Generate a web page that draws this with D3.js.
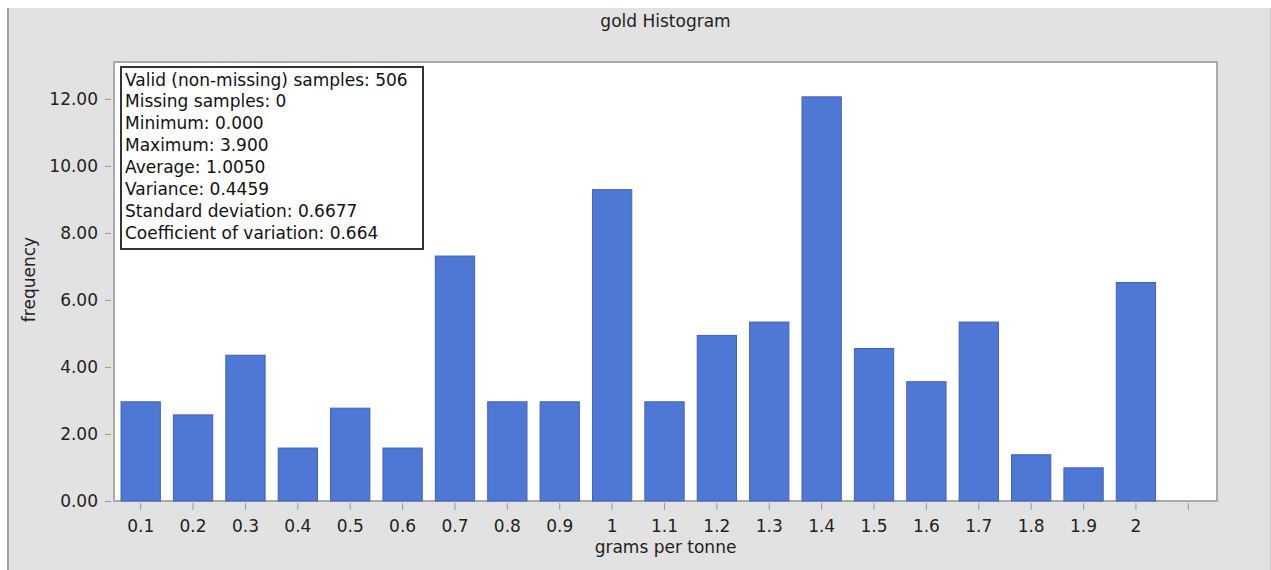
<!DOCTYPE html>
<html><head><meta charset="utf-8">
<script src="https://cdn.jsdelivr.net/npm/d3@7"></script>
<style>
html,body{margin:0;padding:0;background:#fff;}
svg{display:block;font-family:"DejaVu Sans",Verdana,sans-serif;}
</style></head>
<body><svg id="c" width="1271" height="570"></svg>
<script>
const categories = ["0.1","0.2","0.3","0.4","0.5","0.6","0.7","0.8","0.9","1","1.1","1.2","1.3","1.4","1.5","1.6","1.7","1.8","1.9","2",""];
const frequency = [2.96,2.57,4.35,1.58,2.77,1.58,7.31,2.96,2.96,9.29,2.96,4.94,5.34,12.06,4.55,3.56,5.34,1.38,0.99,6.52,0];
const yTicks = [0,2,4,6,8,10,12];
const statsLines = [
  "Valid (non-missing) samples: 506",
  "Missing samples: 0",
  "Minimum: 0.000",
  "Maximum: 3.900",
  "Average: 1.0050",
  "Variance: 0.4459",
  "Standard deviation: 0.6677",
  "Coefficient of variation: 0.664"
];
const title = "gold Histogram", xTitle = "grams per tonne", yTitle = "frequency";

const FONT = "DejaVu Sans, Verdana, sans-serif";
const svg = d3.select("#c");
// panel
svg.append("rect").attr("x",7).attr("y",8).attr("width",1264).attr("height",562).attr("fill","#e2e2e2");
svg.append("line").attr("x1",8).attr("x2",8).attr("y1",8).attr("y2",570).attr("stroke","#a3a3a3").attr("stroke-width",2);
svg.append("line").attr("x1",1270.5).attr("x2",1270.5).attr("y1",8).attr("y2",570).attr("stroke","#c4c4c4").attr("stroke-width",1);

const L=114, R=1217, T=62, B=501;
const x = d3.scaleBand().domain(categories.map((d,i)=>i)).range([L+0.5, R-2.5]).paddingInner(0.25).paddingOuter(0.125);
const y = d3.scaleLinear().domain([0,13.1]).range([B,T]);

svg.append("rect").attr("x",L).attr("y",T).attr("width",R-L).attr("height",B-T).attr("fill","#fff").attr("stroke","#aaaaaa").attr("stroke-width",2);

const g = svg.append("g");
g.selectAll("rect.bar").data(frequency.map((v,i)=>({v,i})).filter(d=>d.v>0)).join("rect")
  .attr("class","bar")
  .attr("x",d=>x(d.i)).attr("width",x.bandwidth())
  .attr("y",d=>y(d.v)).attr("height",d=>B-y(d.v))
  .attr("fill","#4f78d6").attr("stroke","#4062b4").attr("stroke-width",1);

// y axis
const ya = svg.append("g").attr("transform",`translate(${L-2},0)`)
  .call(d3.axisLeft(y).tickValues(yTicks).tickFormat(d3.format(".2f")).tickSize(6).tickPadding(8));
ya.select(".domain").remove();
ya.selectAll(".tick line").attr("stroke","#999").attr("transform","translate(-1,0)");
ya.selectAll(".tick text").attr("font-size","17px").attr("fill","#222").attr("font-family",FONT);

// x axis
const xa = svg.append("g").attr("transform",`translate(0,${B+2})`)
  .call(d3.axisBottom(x).tickFormat(i=>categories[i]).tickSize(7).tickPadding(10));
xa.select(".domain").remove();
xa.selectAll(".tick line").attr("stroke","#999");
xa.selectAll(".tick text").attr("font-size","17px").attr("fill","#222").attr("font-family",FONT);

// titles
svg.append("text").attr("x",(L+R)/2).attr("y",27).attr("text-anchor","middle").attr("font-size","17px").attr("fill","#222").text(title);
svg.append("text").attr("x",(L+R)/2).attr("y",552.5).attr("text-anchor","middle").attr("font-size","17px").attr("fill","#222").text(xTitle);
svg.append("text").attr("transform",`translate(35,${(T+B)/2-2}) rotate(-90)`).attr("text-anchor","middle").attr("font-size","17px").attr("fill","#222").text(yTitle);

// stats box
svg.append("rect").attr("x",121).attr("y",67).attr("width",302).attr("height",182).attr("fill","#fff").attr("stroke","#333").attr("stroke-width",2);
svg.append("g").selectAll("text").data(statsLines).join("text")
  .attr("x",125).attr("y",(d,i)=>85.5+i*21.95).attr("font-size","17px").attr("fill","#111").text(d=>d);
</script></body></html>
